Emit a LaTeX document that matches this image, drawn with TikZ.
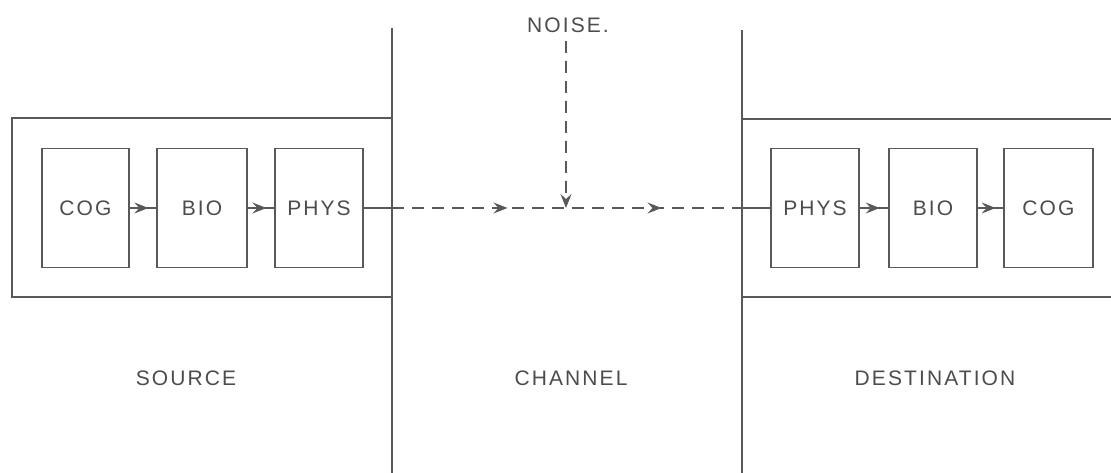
\documentclass[tikz,border=0pt]{standalone}
\usepackage{fontspec}
\setmainfont{Liberation Sans}[LetterSpace=10]
\usetikzlibrary{arrows.meta,calc,decorations.markings}
\begin{document}
\begin{tikzpicture}[x=1pt,y=-1pt,
  ink/.style={draw=black!65,line width=1.2pt},
  lbl/.style={text=black!70,font=\fontsize{21}{24}\selectfont,inner sep=0pt},
  stage/.style={ink,rectangle,minimum height=119pt,inner sep=0pt,lbl},
  tip/.style={-{Stealth[length=14pt,width=11pt,inset=5pt]}},
  dashline/.style={ink,dash pattern=on 12pt off 8pt},
  midarrows/.style={postaction={decorate},decoration={markings,
     mark=at position 0.33 with {\arrow{Stealth[length=14pt,width=11pt,inset=5pt]}},
     mark=at position 0.77 with {\arrow{Stealth[length=14pt,width=11pt,inset=5pt]}}}}]
\useasboundingbox (0,0) rectangle (1111,473);
% frames
\node[ink,rectangle,minimum width=380pt,minimum height=179pt,inner sep=0pt] (srcbox) at (202,207.5) {};
\coordinate (ltop) at (392,28);
\coordinate (lbot) at (392,473);
\coordinate (rtop) at (742,30);
\coordinate (rbot) at (742,473);
\coordinate (dtl) at (742,119);
\coordinate (dtr) at (1111,119);
\coordinate (dbl) at (742,297);
\coordinate (dbr) at (1111,297);
\draw[ink] (ltop) -- (lbot);
\draw[ink] (rtop) -- (rbot);
\draw[ink] (dtl) -- (dtr);
\draw[ink] (dbl) -- (dbr);
% source stages
\node[stage,minimum width=87pt] (scog) at (85.5,208) {COG};
\node[stage,minimum width=90pt] (sbio) at (202,208) {BIO};
\node[stage,minimum width=88pt] (sphys) at (319,208) {PHYS};
% destination stages
\node[stage,minimum width=88pt] (dphys) at (815,208) {PHYS};
\node[stage,minimum width=88pt] (dbio) at (933,208) {BIO};
\node[stage,minimum width=89pt] (dcog) at (1048.5,208) {COG};
% inner connectors
\foreach \a/\b in {scog/sbio,sbio/sphys,dphys/dbio,dbio/dcog}{
  \draw[ink] (\a.east) -- (\b.west);
  \draw[ink,tip] (\a.east) -- ($(\a.east)!0.7!(\b.west)$);
}
% channel
\coordinate (lcut) at (392,208);
\coordinate (rcut) at (742,208);
\draw[ink] (sphys.east) -- (lcut);
\draw[ink] (rcut) -- (dphys.west);
\draw[dashline,midarrows] (lcut) -- (rcut);
% noise
\node[lbl] (noise) at (568,25) {NOISE.};
\coordinate (join) at (566,208);
\draw[dashline,tip] (noise.south) ++(-2,8) -- (join);
% labels
\node[lbl] (src) at (186,378) {SOURCE};
\node[lbl] (chan) at (571,378) {CHANNEL};
\node[lbl] (dest) at (935,378) {DESTINATION};
\end{tikzpicture}
\end{document}
